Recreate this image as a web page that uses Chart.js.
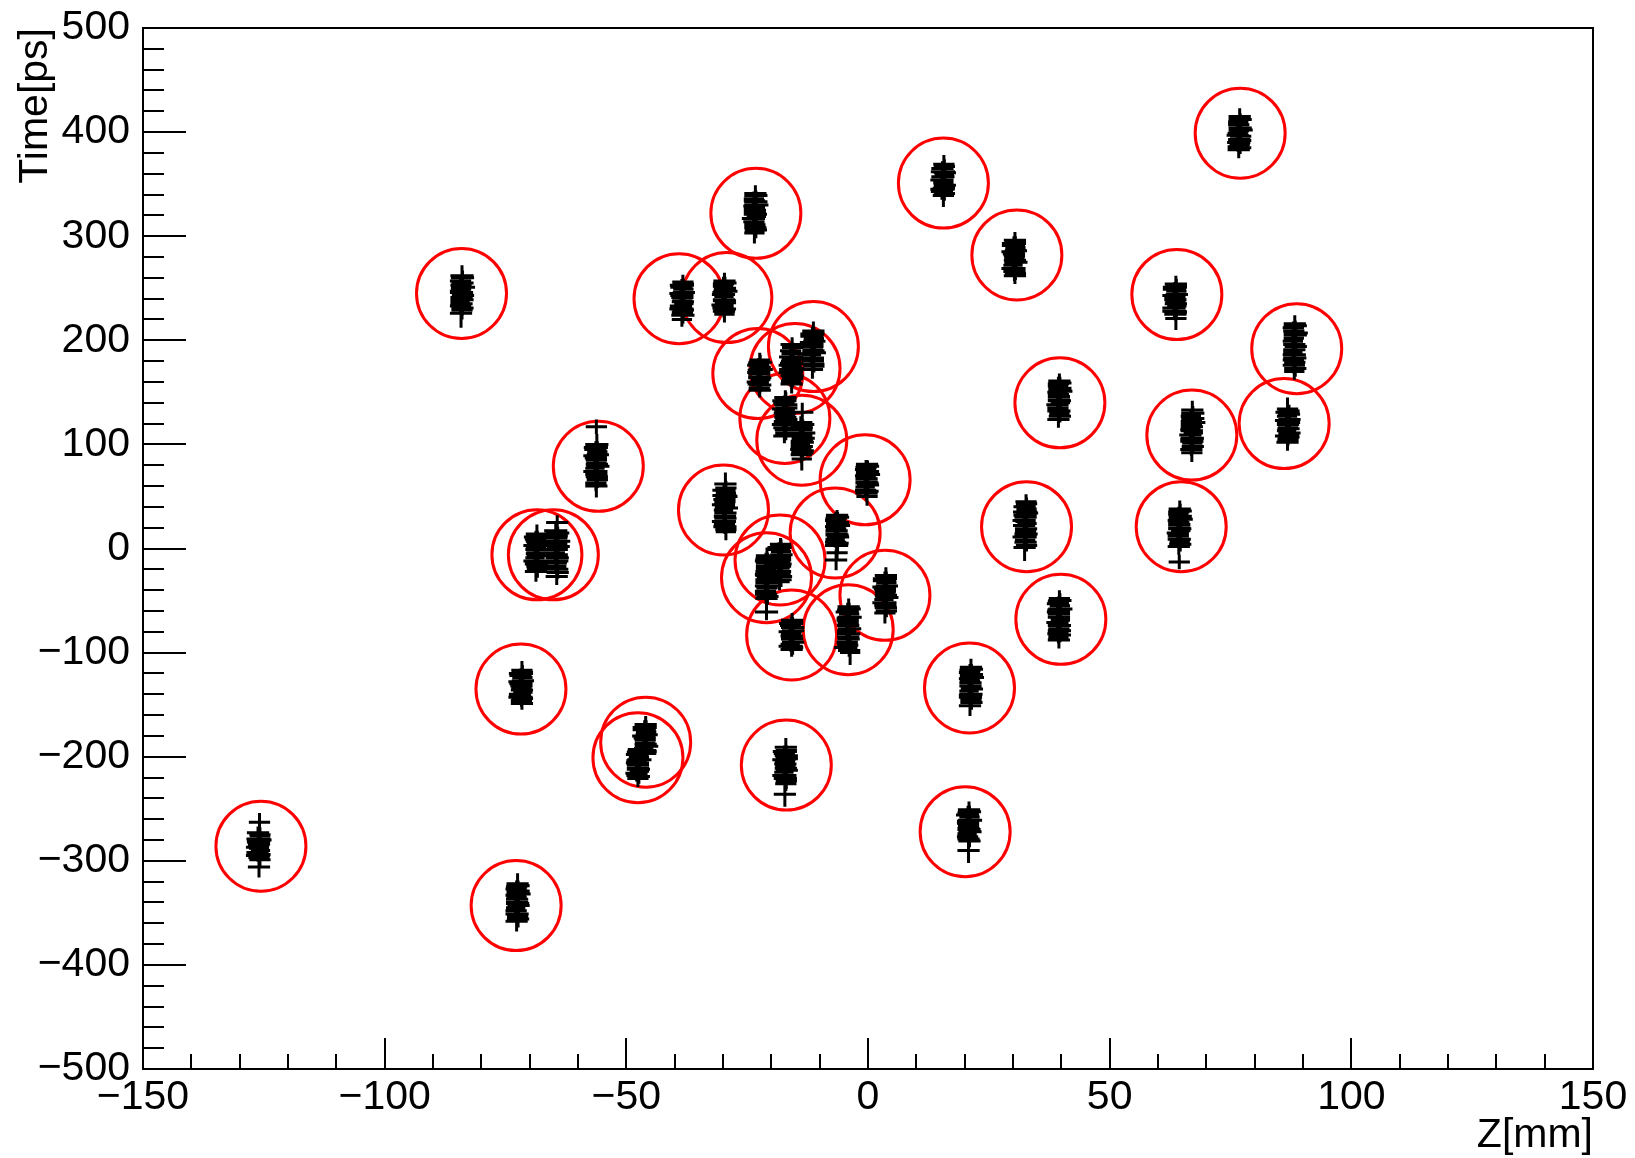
<!DOCTYPE html>
<html><head><meta charset="utf-8">
<script src="https://cdn.jsdelivr.net/npm/chart.js@4.4.1/dist/chart.umd.min.js"></script>
<style>html,body{margin:0;padding:0;background:#fff;}canvas{display:block;}</style>
</head><body>
<canvas id="c" width="1635" height="1158"></canvas>
<script>
// ---- axis tick labels ----
const xMajor = [-150, -100, -50, 0, 50, 100, 150];
const yMajor = [-500, -400, -300, -200, -100, 0, 100, 200, 300, 400, 500];
const xTitle = 'Z[mm]';
const yTitle = 'Time[ps]';

// ---- vertices (red circles) ----
const vtxZ = [77.0, 15.6, -23.2, 30.8, -84.1, -39.1, -29.2, 63.9, 88.7, -11.3, -22.8, -15.1, 39.7, -17.2, -13.7, 86.1, 67.0, -55.8, -0.6, -29.9, -6.8, 32.8, 64.8, -68.5, -65.1, -18.2, -21.0, 3.5, 39.9, -15.8, -4.1, -71.8, 21.0, -46.0, -47.6, -16.9, 20.1, -125.6, -72.8];
const vtxT = [399, 351, 322, 282, 245, 240, 241, 244, 192, 194, 168, 173, 140, 125, 104, 120, 109, 79, 66, 37, 15, 21, 21, -6, -6, -11, -28, -45, -68, -83, -78, -135, -134, -186, -201, -208, -272, -286, -343];

// ---- tracks (black crosses), grouped by vertex ----
const trkT = [
 [415, 410, 404, 401, 397, 396, 390, 388, 383, 412, 407, 402, 399, 393, 392, 386, 385],
 [369, 365, 359, 357, 351, 349, 343, 339, 367, 362, 361, 354, 353, 346, 345, 341],
 [341, 336, 333, 327, 325, 319, 317, 311, 308, 303, 339, 334, 330, 329, 322, 321, 314, 306],
 [296, 291, 289, 283, 281, 275, 272, 266, 262, 294, 293, 286, 285, 278, 277, 269, 264],
 [262, 257, 255, 249, 246, 243, 237, 235, 229, 226, 260, 253, 251, 247, 241, 239, 233, 231],
 [256, 251, 249, 243, 241, 235, 233, 227, 224, 220, 254, 253, 246, 245, 238, 237, 230, 229],
 [257, 252, 250, 244, 242, 236, 234, 228, 225, 255, 254, 247, 246, 239, 238, 231, 230],
 [254, 249, 247, 241, 239, 233, 231, 225, 221, 252, 251, 244, 243, 236, 235, 228, 227],
 [216, 212, 205, 202, 196, 194, 188, 186, 179, 176, 170, 214, 209, 207, 199, 191, 183, 181, 173],
 [209, 204, 202, 196, 194, 188, 186, 180, 177, 172, 207, 206, 199, 198, 191, 190, 183, 175],
 [181, 176, 174, 169, 168, 162, 160, 154, 152, 179, 178, 172, 171, 165, 164, 158, 157],
 [196, 190, 187, 180, 178, 173, 172, 167, 166, 161, 158, 193, 184, 182, 176, 175, 170, 169, 163],
 [161, 156, 154, 148, 146, 140, 138, 132, 130, 124, 159, 158, 151, 150, 143, 142, 135, 127],
 [145, 140, 138, 132, 130, 124, 122, 116, 114, 108, 143, 142, 135, 134, 127, 126, 119, 111],
 [131, 121, 116, 114, 108, 106, 100, 98, 92, 90, 86, 119, 118, 111, 110, 103, 102, 95, 94],
 [134, 129, 127, 121, 119, 113, 111, 105, 102, 132, 131, 124, 123, 116, 115, 108, 107],
 [133, 127, 125, 119, 117, 111, 109, 103, 101, 95, 92, 130, 122, 121, 114, 113, 106, 105, 98],
 [117, 100, 95, 93, 87, 85, 79, 77, 71, 69, 63, 60, 98, 97, 90, 89, 82, 81, 74, 66],
 [81, 76, 74, 68, 67, 61, 59, 53, 50, 79, 78, 71, 70, 64, 63, 56, 55],
 [62, 56, 53, 47, 45, 39, 37, 31, 29, 23, 21, 16, 58, 51, 50, 42, 41, 34, 26, 18],
 [32, 27, 25, 19, 17, 11, 9, 3, -4, -11, 30, 29, 22, 21, 14, 13, 6, 5],
 [45, 40, 38, 32, 30, 24, 22, 16, 14, 8, 6, 1, 43, 35, 34, 27, 26, 19, 11, 3],
 [38, 33, 31, 25, 23, 17, 15, 9, 7, 2, -13, 36, 35, 28, 27, 20, 19, 12, 4],
 [14, 9, 7, 1, -1, -7, -9, -15, -17, -22, 12, 11, 4, 3, -4, -5, -12, -20],
 [25, 17, 12, 10, 4, 2, -4, -6, -12, -14, -20, -27, 15, 14, 7, 6, -1, -9, -17, -23],
 [4, -1, -3, -9, -11, -17, -19, -25, -27, -32, 2, 1, -6, -7, -14, -15, -22, -30],
 [-7, -12, -14, -20, -22, -28, -30, -36, -38, -44, -48, -61, -9, -10, -17, -25, -26, -33, -41, -46],
 [-26, -31, -33, -39, -41, -47, -49, -55, -57, -62, -28, -29, -36, -37, -44, -45, -52, -60],
 [-48, -53, -55, -61, -63, -69, -71, -77, -79, -85, -88, -50, -51, -58, -59, -66, -74, -82, -83],
 [-69, -74, -76, -82, -84, -90, -92, -97, -71, -72, -79, -80, -86, -87, -94, -95],
 [-56, -61, -63, -69, -71, -77, -79, -85, -87, -93, -95, -100, -58, -59, -66, -67, -74, -82, -90, -98],
 [-117, -122, -124, -130, -132, -138, -140, -146, -149, -119, -120, -127, -128, -135, -136, -143, -144],
 [-114, -119, -121, -127, -129, -135, -137, -143, -145, -151, -116, -117, -124, -125, -132, -140, -141, -148],
 [-169, -174, -176, -182, -184, -190, -192, -197, -171, -172, -179, -180, -187, -188, -194, -195],
 [-193, -198, -200, -206, -208, -214, -216, -221, -195, -196, -203, -204, -211, -212, -218, -219],
 [-191, -197, -199, -205, -207, -213, -215, -221, -226, -236, -194, -195, -202, -203, -210, -211, -218, -223],
 [-251, -256, -258, -264, -266, -272, -274, -279, -290, -253, -254, -261, -262, -269, -270, -277, -281],
 [-263, -273, -276, -282, -284, -290, -292, -297, -306, -275, -279, -280, -287, -288, -294, -295, -299],
 [-322, -327, -329, -335, -337, -343, -345, -351, -353, -358, -324, -325, -332, -333, -340, -341, -348, -356]
];
const trkTErr = [
 [8, 6, 9, 7, 10, 6, 8, 6, 8, 6, 7, 5, 8, 6, 7, 5, 6],
 [9, 7, 8, 6, 9, 7, 8, 11, 7, 5, 6, 7, 8, 5, 6, 7],
 [8, 7, 9, 6, 8, 7, 9, 6, 8, 10, 5, 6, 8, 6, 7, 6, 5, 8],
 [8, 6, 7, 9, 6, 8, 7, 9, 8, 6, 7, 5, 8, 6, 7, 5, 6],
 [10, 6, 8, 7, 9, 6, 8, 7, 9, 14, 7, 5, 6, 7, 8, 5, 6, 7],
 [7, 6, 8, 7, 9, 6, 8, 7, 8, 7, 5, 6, 8, 6, 7, 6, 5, 8],
 [8, 6, 7, 9, 6, 8, 7, 6, 8, 6, 7, 5, 8, 6, 7, 5, 6],
 [8, 6, 7, 9, 6, 8, 7, 6, 11, 7, 5, 6, 7, 8, 5, 6, 7],
 [8, 6, 7, 8, 6, 7, 8, 6, 7, 8, 8, 5, 6, 8, 6, 7, 6, 5, 8],
 [9, 6, 8, 7, 9, 6, 8, 7, 6, 9, 6, 7, 5, 8, 6, 7, 5, 6],
 [7, 6, 8, 6, 7, 8, 6, 7, 7, 7, 5, 6, 7, 8, 5, 6, 7],
 [7, 6, 8, 6, 7, 6, 8, 6, 7, 6, 9, 5, 6, 8, 6, 7, 6, 5, 8],
 [7, 6, 8, 7, 6, 8, 7, 6, 8, 8, 6, 7, 5, 8, 6, 7, 5, 6],
 [7, 6, 8, 7, 6, 8, 7, 6, 8, 7, 7, 5, 6, 7, 8, 5, 6, 7],
 [9, 6, 7, 8, 6, 7, 8, 6, 7, 8, 11, 5, 6, 8, 6, 7, 6, 5, 8],
 [11, 6, 7, 8, 6, 7, 8, 6, 8, 6, 7, 5, 8, 6, 7, 5, 6],
 [9, 6, 7, 8, 6, 7, 8, 6, 7, 6, 9, 7, 5, 6, 7, 8, 5, 6, 7],
 [7, 10, 6, 7, 8, 6, 7, 8, 6, 7, 8, 11, 5, 6, 8, 6, 7, 6, 5, 8],
 [4, 6, 7, 6, 8, 7, 6, 7, 9, 5, 7, 5, 8, 6, 7, 5, 6],
 [11, 7, 6, 8, 7, 6, 8, 7, 6, 8, 7, 8, 7, 5, 6, 7, 8, 5, 6, 7],
 [5, 7, 6, 8, 7, 6, 8, 7, 6, 10, 5, 6, 8, 6, 7, 6, 5, 8],
 [7, 6, 8, 7, 6, 8, 7, 6, 8, 7, 6, 13, 6, 7, 5, 8, 6, 7, 5, 6],
 [8, 6, 7, 8, 6, 7, 8, 6, 7, 8, 7, 7, 5, 6, 7, 8, 5, 6, 7],
 [9, 6, 7, 8, 6, 7, 8, 6, 7, 10, 5, 6, 8, 6, 7, 6, 5, 8],
 [7, 7, 6, 8, 7, 6, 8, 7, 6, 8, 7, 8, 6, 7, 5, 8, 6, 7, 5, 6],
 [6, 7, 6, 8, 7, 6, 8, 7, 6, 8, 7, 5, 6, 7, 8, 5, 6, 7],
 [8, 6, 7, 8, 6, 7, 8, 6, 7, 8, 7, 8, 5, 6, 8, 6, 7, 6, 5, 8],
 [8, 6, 7, 8, 6, 7, 8, 6, 7, 10, 6, 7, 5, 8, 6, 7, 5, 6],
 [8, 6, 7, 8, 6, 7, 8, 6, 7, 6, 8, 7, 5, 6, 7, 8, 5, 6, 7],
 [7, 6, 8, 6, 7, 8, 6, 7, 5, 6, 8, 6, 7, 6, 5, 7],
 [8, 6, 7, 8, 6, 7, 8, 6, 7, 8, 6, 12, 6, 7, 5, 8, 6, 7, 5, 6],
 [9, 6, 7, 8, 6, 7, 8, 6, 6, 7, 5, 6, 7, 8, 5, 6, 5],
 [8, 6, 7, 8, 6, 7, 8, 6, 7, 10, 5, 6, 8, 6, 7, 6, 5, 7],
 [8, 6, 7, 8, 6, 7, 8, 6, 6, 7, 5, 8, 6, 7, 5, 6],
 [7, 6, 8, 7, 6, 8, 7, 8, 7, 5, 6, 7, 8, 5, 6, 7],
 [9, 6, 7, 8, 6, 7, 8, 6, 7, 12, 5, 6, 8, 6, 7, 6, 5, 8],
 [8, 6, 7, 8, 6, 7, 8, 6, 12, 6, 7, 5, 8, 6, 7, 5, 6],
 [9, 6, 7, 8, 6, 7, 8, 6, 10, 7, 5, 6, 7, 8, 5, 6, 7],
 [10, 6, 7, 8, 6, 7, 8, 6, 7, 10, 5, 6, 8, 6, 7, 6, 5, 8]
];
const trkZ = [
 [76.9, 76.6, 77.0, 76.8, 76.5, 77.1, 76.7, 76.9, 76.7, 77.0, 76.7, 77.1, 76.5, 76.8, 76.9, 76.6, 77.0],
 [15.7, 15.4, 15.8, 15.5, 15.6, 15.9, 15.3, 15.6, 15.8, 15.5, 15.9, 15.3, 15.6, 15.7, 15.4, 15.8],
 [-23.3, -23.6, -23.2, -23.5, -23.4, -23.1, -23.7, -23.4, -23.3, -23.5, -23.2, -23.5, -23.1, -23.7, -23.4, -23.3, -23.6, -23.2],
 [30.4, 30.1, 30.5, 30.2, 30.3, 30.6, 30.0, 30.3, 30.4, 30.5, 30.2, 30.6, 30.0, 30.3, 30.4, 30.1, 30.5],
 [-84.0, -84.3, -83.9, -84.2, -84.1, -83.8, -84.4, -84.1, -84.0, -84.2, -83.9, -84.2, -83.8, -84.4, -84.1, -84.0, -84.3, -83.9],
 [-38.3, -38.6, -38.2, -38.5, -38.4, -38.1, -38.7, -38.4, -38.3, -38.5, -38.2, -38.5, -38.1, -38.7, -38.4, -38.3, -38.6, -38.2],
 [-29.7, -30.0, -29.6, -29.9, -29.8, -29.5, -30.1, -29.8, -29.7, -29.6, -29.9, -29.5, -30.1, -29.8, -29.7, -30.0, -29.6],
 [63.7, 63.4, 63.8, 63.5, 63.6, 63.9, 63.3, 63.6, 63.7, 63.8, 63.5, 63.9, 63.3, 63.6, 63.7, 63.4, 63.8],
 [88.3, 88.0, 88.4, 88.1, 88.2, 88.5, 87.9, 88.2, 88.3, 88.1, 88.2, 88.4, 88.1, 88.5, 87.9, 88.2, 88.3, 88.0, 88.4],
 [-11.3, -11.6, -11.2, -11.5, -11.4, -11.1, -11.7, -11.4, -11.3, -11.5, -11.2, -11.5, -11.1, -11.7, -11.4, -11.3, -11.6, -11.2],
 [-22.4, -22.7, -22.3, -22.6, -22.5, -22.2, -22.8, -22.5, -22.4, -22.3, -22.6, -22.2, -22.8, -22.5, -22.4, -22.7, -22.3],
 [-15.7, -16.0, -15.6, -15.9, -15.8, -15.5, -16.1, -15.8, -15.7, -15.9, -15.8, -15.6, -15.9, -15.5, -16.1, -15.8, -15.7, -16.0, -15.6],
 [39.6, 39.3, 39.7, 39.4, 39.5, 39.8, 39.2, 39.5, 39.6, 39.4, 39.7, 39.4, 39.8, 39.2, 39.5, 39.6, 39.3, 39.7],
 [-17.1, -17.4, -17.0, -17.3, -17.2, -16.9, -17.5, -17.2, -17.1, -17.3, -17.0, -17.3, -16.9, -17.5, -17.2, -17.1, -17.4, -17.0],
 [-13.6, -13.9, -13.5, -13.8, -13.7, -13.4, -14.0, -13.7, -13.6, -13.8, -13.7, -13.5, -13.8, -13.4, -14.0, -13.7, -13.6, -13.9, -13.5],
 [86.8, 87.1, 86.7, 87.0, 86.9, 86.6, 87.2, 86.9, 86.8, 87.1, 86.8, 87.2, 86.6, 86.9, 87.0, 86.7, 87.1],
 [67.1, 66.8, 67.2, 66.9, 67.0, 67.3, 66.7, 67.0, 67.1, 66.9, 67.0, 67.2, 66.9, 67.3, 66.7, 67.0, 67.1, 66.8, 67.2],
 [-56.2, -56.1, -56.4, -56.0, -56.3, -56.2, -55.9, -56.5, -56.2, -56.1, -56.3, -56.2, -56.0, -56.3, -55.9, -56.5, -56.2, -56.1, -56.4, -56.0],
 [-0.2, -0.5, -0.1, -0.4, -0.3, 0.0, -0.6, -0.3, -0.2, -0.1, -0.4, 0.0, -0.6, -0.3, -0.2, -0.5, -0.1],
 [-29.5, -29.8, -29.4, -29.7, -29.6, -29.3, -29.9, -29.6, -29.5, -29.7, -29.6, -29.4, -29.4, -29.7, -29.3, -29.9, -29.6, -29.5, -29.8, -29.4],
 [-6.4, -6.7, -6.3, -6.6, -6.5, -6.2, -6.8, -6.5, -6.4, -6.6, -6.3, -6.6, -6.2, -6.8, -6.5, -6.4, -6.7, -6.3],
 [32.7, 32.4, 32.8, 32.5, 32.6, 32.9, 32.3, 32.6, 32.7, 32.5, 32.6, 32.4, 32.8, 32.5, 32.9, 32.3, 32.6, 32.7, 32.4, 32.8],
 [64.5, 64.2, 64.6, 64.3, 64.4, 64.7, 64.1, 64.4, 64.5, 64.3, 64.4, 64.6, 64.3, 64.7, 64.1, 64.4, 64.5, 64.2, 64.6],
 [-68.5, -68.8, -68.4, -68.7, -68.6, -68.3, -68.9, -68.6, -68.5, -68.7, -68.4, -68.7, -68.3, -68.9, -68.6, -68.5, -68.8, -68.4],
 [-64.3, -64.6, -64.2, -64.5, -64.4, -64.1, -64.7, -64.4, -64.3, -64.5, -64.4, -64.4, -64.2, -64.5, -64.1, -64.7, -64.4, -64.3, -64.6, -64.2],
 [-18.1, -18.4, -18.0, -18.3, -18.2, -17.9, -18.5, -18.2, -18.1, -18.3, -18.0, -18.3, -17.9, -18.5, -18.2, -18.1, -18.4, -18.0],
 [-20.9, -21.2, -20.8, -21.1, -21.0, -20.7, -21.3, -21.0, -20.9, -21.1, -21.0, -21.0, -20.8, -21.1, -20.7, -21.3, -21.0, -20.9, -21.2, -20.8],
 [3.7, 3.4, 3.8, 3.5, 3.6, 3.9, 3.3, 3.6, 3.7, 3.5, 3.8, 3.5, 3.9, 3.3, 3.6, 3.7, 3.4, 3.8],
 [39.6, 39.3, 39.7, 39.4, 39.5, 39.8, 39.2, 39.5, 39.6, 39.4, 39.5, 39.7, 39.4, 39.8, 39.2, 39.5, 39.6, 39.3, 39.7],
 [-15.7, -16.0, -15.6, -15.9, -15.8, -15.5, -16.1, -15.8, -15.6, -15.9, -15.5, -16.1, -15.8, -15.7, -16.0, -15.6],
 [-4.0, -4.3, -3.9, -4.2, -4.1, -3.8, -4.4, -4.1, -4.0, -4.2, -4.6, -3.7, -3.9, -4.2, -3.8, -4.4, -4.1, -4.0, -4.3, -3.9],
 [-71.6, -71.9, -71.5, -71.8, -71.7, -71.4, -72.0, -71.7, -71.6, -71.5, -71.8, -71.4, -72.0, -71.7, -71.6, -71.9, -71.5],
 [21.3, 21.0, 21.4, 21.1, 21.2, 21.5, 20.9, 21.2, 21.3, 21.1, 21.4, 21.1, 21.5, 20.9, 21.2, 21.3, 21.0, 21.4],
 [-46.0, -46.3, -45.9, -46.2, -46.1, -45.8, -46.4, -46.1, -45.9, -46.2, -45.8, -46.4, -46.1, -46.0, -46.3, -45.9],
 [-47.5, -47.8, -47.4, -47.7, -47.6, -47.3, -47.9, -47.6, -47.4, -47.7, -47.3, -47.9, -47.6, -47.5, -47.8, -47.4],
 [-17.0, -17.3, -16.9, -17.2, -17.1, -16.8, -17.4, -17.1, -17.0, -17.2, -16.9, -17.2, -16.8, -17.4, -17.1, -17.0, -17.3, -16.9],
 [20.9, 20.6, 21.0, 20.7, 20.8, 21.1, 20.5, 20.8, 20.8, 21.0, 20.7, 21.1, 20.5, 20.8, 20.9, 20.6, 21.0],
 [-125.9, -126.2, -125.8, -126.1, -126.0, -125.7, -126.3, -126.0, -126.0, -125.8, -126.1, -125.7, -126.3, -126.0, -125.9, -126.2, -125.8],
 [-72.5, -72.8, -72.4, -72.7, -72.6, -72.3, -72.9, -72.6, -72.5, -72.7, -72.4, -72.7, -72.3, -72.9, -72.6, -72.5, -72.8, -72.4]
];
const trkZErr = [
 [2.3, 2.1, 2.4, 2.0, 2.3, 2.2, 2.4, 2.1, 2.3, 2.4, 2.2, 2.5, 2.1, 2.3, 2.4, 2.2, 2.3],
 [2.2, 2.3, 2.0, 2.4, 2.1, 2.3, 2.3, 2.2, 2.2, 2.5, 2.3, 2.4, 2.1, 2.3, 2.5, 2.2],
 [2.3, 2.1, 2.4, 2.2, 2.3, 2.0, 2.4, 2.2, 2.3, 2.1, 2.4, 2.2, 2.5, 2.1, 2.3, 2.4, 2.2, 2.3],
 [2.3, 2.4, 2.1, 2.3, 2.2, 2.4, 2.0, 2.3, 2.3, 2.2, 2.5, 2.3, 2.4, 2.1, 2.3, 2.5, 2.2],
 [2.4, 2.2, 2.3, 2.1, 2.4, 2.3, 2.0, 2.3, 2.2, 2.3, 2.4, 2.2, 2.5, 2.1, 2.3, 2.4, 2.2, 2.3],
 [2.2, 2.3, 2.1, 2.4, 2.3, 2.0, 2.3, 2.2, 2.4, 2.1, 2.2, 2.5, 2.3, 2.4, 2.1, 2.3, 2.5, 2.2],
 [2.3, 2.1, 2.3, 2.4, 2.0, 2.2, 2.3, 2.3, 2.1, 2.4, 2.2, 2.5, 2.1, 2.3, 2.4, 2.2, 2.3],
 [2.3, 2.4, 2.1, 2.2, 2.3, 2.0, 2.4, 2.3, 2.2, 2.2, 2.5, 2.3, 2.4, 2.1, 2.3, 2.5, 2.2],
 [2.3, 2.2, 2.4, 2.1, 2.3, 2.3, 2.0, 2.4, 2.2, 2.3, 2.1, 2.4, 2.2, 2.5, 2.1, 2.3, 2.4, 2.2, 2.3],
 [2.3, 2.4, 2.1, 2.3, 2.2, 2.4, 2.0, 2.3, 2.3, 2.2, 2.2, 2.5, 2.3, 2.4, 2.1, 2.3, 2.5, 2.2],
 [2.1, 2.3, 2.2, 2.4, 2.3, 2.0, 2.3, 2.2, 2.3, 2.4, 2.2, 2.5, 2.1, 2.3, 2.4, 2.2, 2.3],
 [2.4, 2.2, 2.3, 2.1, 2.4, 2.3, 2.3, 2.2, 2.4, 2.1, 2.3, 2.2, 2.5, 2.3, 2.4, 2.1, 2.3, 2.5, 2.2],
 [2.3, 2.1, 2.4, 2.2, 2.3, 2.0, 2.3, 2.4, 2.1, 2.3, 2.4, 2.2, 2.5, 2.1, 2.3, 2.4, 2.2, 2.3],
 [2.3, 2.2, 2.4, 2.1, 2.3, 2.3, 2.0, 2.4, 2.2, 2.3, 2.2, 2.5, 2.3, 2.4, 2.1, 2.3, 2.5, 2.2],
 [2.3, 2.4, 2.1, 2.3, 2.2, 2.4, 2.0, 2.3, 2.3, 2.2, 2.1, 2.4, 2.2, 2.5, 2.1, 2.3, 2.4, 2.2, 2.3],
 [2.2, 2.3, 2.1, 2.4, 2.3, 2.0, 2.3, 2.2, 2.3, 2.2, 2.5, 2.3, 2.4, 2.1, 2.3, 2.5, 2.2],
 [2.3, 2.1, 2.4, 2.2, 2.3, 2.0, 2.3, 2.4, 2.1, 2.3, 2.2, 2.4, 2.2, 2.5, 2.1, 2.3, 2.4, 2.2, 2.3],
 [2.2, 2.4, 2.3, 2.1, 2.3, 2.2, 2.4, 2.0, 2.3, 2.3, 2.2, 2.3, 2.2, 2.5, 2.3, 2.4, 2.1, 2.3, 2.5, 2.2],
 [2.3, 2.2, 2.4, 2.1, 2.3, 2.3, 2.0, 2.3, 2.2, 2.4, 2.2, 2.5, 2.1, 2.3, 2.4, 2.2, 2.3],
 [2.3, 2.4, 2.1, 2.3, 2.2, 2.4, 2.0, 2.3, 2.3, 2.2, 2.4, 2.1, 2.2, 2.5, 2.3, 2.4, 2.1, 2.3, 2.5, 2.2],
 [2.3, 2.2, 2.4, 2.1, 2.3, 2.3, 2.0, 2.4, 2.2, 2.3, 2.4, 2.2, 2.5, 2.1, 2.3, 2.4, 2.2, 2.3],
 [2.2, 2.3, 2.1, 2.4, 2.3, 2.0, 2.3, 2.2, 2.4, 2.1, 2.3, 2.3, 2.2, 2.5, 2.3, 2.4, 2.1, 2.3, 2.5, 2.2],
 [2.3, 2.1, 2.4, 2.2, 2.3, 2.0, 2.3, 2.4, 2.1, 2.3, 2.2, 2.4, 2.2, 2.5, 2.1, 2.3, 2.4, 2.2, 2.3],
 [2.3, 2.2, 2.4, 2.1, 2.3, 2.3, 2.0, 2.4, 2.2, 2.3, 2.2, 2.5, 2.3, 2.4, 2.1, 2.3, 2.5, 2.2],
 [2.3, 2.4, 2.1, 2.3, 2.2, 2.4, 2.0, 2.3, 2.3, 2.2, 2.4, 2.3, 2.4, 2.2, 2.5, 2.1, 2.3, 2.4, 2.2, 2.3],
 [2.2, 2.3, 2.1, 2.4, 2.3, 2.0, 2.3, 2.2, 2.4, 2.1, 2.2, 2.5, 2.3, 2.4, 2.1, 2.3, 2.5, 2.2],
 [2.3, 2.2, 2.4, 2.1, 2.3, 2.3, 2.0, 2.4, 2.2, 2.3, 2.3, 2.4, 2.4, 2.2, 2.5, 2.1, 2.3, 2.4, 2.2, 2.3],
 [2.3, 2.4, 2.1, 2.3, 2.2, 2.4, 2.0, 2.3, 2.3, 2.2, 2.2, 2.5, 2.3, 2.4, 2.1, 2.3, 2.5, 2.2],
 [2.2, 2.3, 2.1, 2.4, 2.3, 2.0, 2.3, 2.2, 2.4, 2.1, 2.3, 2.4, 2.2, 2.5, 2.1, 2.3, 2.4, 2.2, 2.3],
 [2.3, 2.2, 2.4, 2.1, 2.3, 2.3, 2.0, 2.3, 2.2, 2.5, 2.3, 2.4, 2.1, 2.3, 2.5, 2.2],
 [2.3, 2.4, 2.1, 2.3, 2.2, 2.4, 2.0, 2.3, 2.3, 2.2, 2.4, 2.1, 2.4, 2.2, 2.5, 2.1, 2.3, 2.4, 2.2, 2.3],
 [2.2, 2.3, 2.1, 2.4, 2.3, 2.0, 2.3, 2.2, 2.3, 2.2, 2.5, 2.3, 2.4, 2.1, 2.3, 2.5, 2.2],
 [2.3, 2.2, 2.4, 2.1, 2.3, 2.3, 2.0, 2.4, 2.2, 2.3, 2.4, 2.2, 2.5, 2.1, 2.3, 2.4, 2.2, 2.3],
 [2.3, 2.4, 2.1, 2.3, 2.2, 2.4, 2.0, 2.3, 2.2, 2.5, 2.3, 2.4, 2.1, 2.3, 2.5, 2.2],
 [2.2, 2.3, 2.1, 2.4, 2.3, 2.0, 2.3, 2.2, 2.4, 2.2, 2.5, 2.1, 2.3, 2.4, 2.2, 2.3],
 [2.3, 2.2, 2.4, 2.1, 2.3, 2.3, 2.0, 2.4, 2.2, 2.3, 2.2, 2.5, 2.3, 2.4, 2.1, 2.3, 2.5, 2.2],
 [2.3, 2.4, 2.1, 2.3, 2.2, 2.4, 2.0, 2.3, 2.3, 2.4, 2.2, 2.5, 2.1, 2.3, 2.4, 2.2, 2.3],
 [2.2, 2.3, 2.1, 2.4, 2.3, 2.0, 2.3, 2.2, 2.3, 2.2, 2.5, 2.3, 2.4, 2.1, 2.3, 2.5, 2.2],
 [2.3, 2.2, 2.4, 2.1, 2.3, 2.3, 2.0, 2.4, 2.2, 2.3, 2.4, 2.2, 2.5, 2.1, 2.3, 2.4, 2.2, 2.3]
];

// ---- build library data from the arrays ----
const FONT = "'Liberation Sans', Arial, Helvetica, sans-serif";
const fmt = v => (v < 0 ? '\u2212' + Math.abs(v) : String(v));

const errData = [];
for (let c = 0; c < trkT.length; c++) {
  const n = Math.min(trkT[c].length, trkZ[c].length, trkTErr[c].length, trkZErr[c].length);
  for (let i = 0; i < n; i++) {
    const z = trkZ[c][i], t = trkT[c][i], ze = trkZErr[c][i], te = trkTErr[c][i];
    errData.push({x: z - ze, y: t}, {x: z + ze, y: t}, {x: z, y: null},
                 {x: z, y: t - te}, {x: z, y: t + te}, {x: z, y: null});
  }
}
const vtxData = vtxZ.map((z, i) => ({x: z, y: vtxT[i]}));

const rootAxes = {
  id: 'rootAxes',
  afterDatasetsDraw(chart) {
    const {ctx, chartArea: a, scales: {x, y}} = chart;
    ctx.save();
    ctx.strokeStyle = '#000';
    ctx.lineWidth = 2;
    ctx.lineCap = 'butt';
    ctx.beginPath();
    x.ticks.forEach(tk => {
      const px = Math.round(x.getPixelForValue(tk.value));
      const len = xMajor.includes(tk.value) ? 31 : 15;
      ctx.moveTo(px, a.bottom); ctx.lineTo(px, a.bottom - len);
    });
    y.ticks.forEach(tk => {
      const py = Math.round(y.getPixelForValue(tk.value));
      const len = yMajor.includes(tk.value) ? 43 : 21;
      ctx.moveTo(a.left, py); ctx.lineTo(a.left + len, py);
    });
    ctx.stroke();
    ctx.strokeRect(a.left, a.top, a.right - a.left, a.bottom - a.top);
    ctx.restore();
  }
};

new Chart(document.getElementById('c'), {
  type: 'scatter',
  data: {
    datasets: [
      {
        label: 'tracks',
        data: errData,
        showLine: true,
        spanGaps: false,
        borderColor: '#000',
        borderWidth: 3,
        borderCapStyle: 'butt',
        pointRadius: 0,
        pointHoverRadius: 0,
        tension: 0,
        order: 1
      },
      {
        label: 'vertices',
        data: vtxData,
        showLine: false,
        pointStyle: 'circle',
        pointRadius: 45,
        pointHoverRadius: 45,
        pointBorderWidth: 3,
        pointBorderColor: '#ff0000',
        pointBackgroundColor: 'rgba(0,0,0,0)',
        borderColor: '#ff0000',
        backgroundColor: 'rgba(0,0,0,0)',
        order: 2
      }
    ]
  },
  options: {
    responsive: false,
    devicePixelRatio: 1,
    animation: false,
    events: [],
    layout: { autoPadding: false, padding: { left: 0, top: 28, right: 42, bottom: 0 } },
    plugins: { legend: { display: false }, tooltip: { enabled: false } },
    scales: {
      x: {
        type: 'linear', position: 'bottom', min: -150, max: 150,
        grid: { display: false, drawTicks: false },
        border: { display: false },
        ticks: {
          stepSize: 10, autoSkip: false, maxRotation: 0, minRotation: 0, padding: 8,
          color: '#000', font: { family: FONT, size: 41, lineHeight: 1 },
          callback: v => (xMajor.includes(v) ? fmt(v) : '')
        },
        title: {
          display: true, text: xTitle, align: 'end', color: '#000',
          font: { family: FONT, size: 41, lineHeight: 1 },
          padding: { top: 0, bottom: 2 }
        },
        afterFit: s => { s.height = 89; s.paddingLeft = 0; s.paddingRight = 0; }
      },
      y: {
        type: 'linear', position: 'left', min: -500, max: 500,
        grid: { display: false, drawTicks: false },
        border: { display: false },
        ticks: {
          stepSize: 20, autoSkip: false, padding: 13,
          color: '#000', font: { family: FONT, size: 41, lineHeight: 1 },
          callback: v => (yMajor.includes(v) ? fmt(v) : '')
        },
        title: {
          display: true, text: yTitle, align: 'end', color: '#000',
          font: { family: FONT, size: 41, lineHeight: 1 },
          padding: { top: 15, bottom: 0 }
        },
        afterFit: s => { s.width = 143; s.paddingTop = 0; s.paddingBottom = 0; }
      }
    }
  },
  plugins: [rootAxes]
});
</script>
</body></html>
